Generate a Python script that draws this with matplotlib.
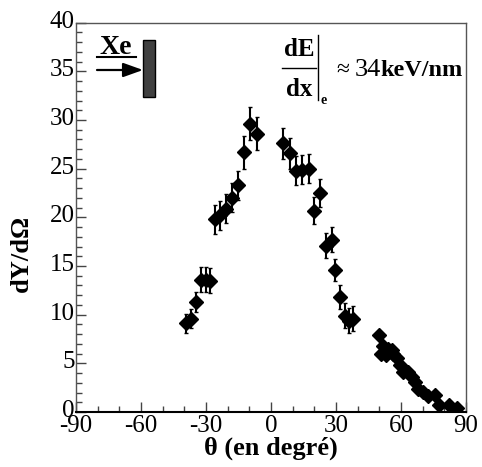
import matplotlib
matplotlib.use("Agg")
import matplotlib.pyplot as plt
from matplotlib.patches import Rectangle, FancyArrowPatch
from matplotlib.lines import Line2D
from matplotlib.ticker import MultipleLocator
from matplotlib.transforms import ScaledTranslation

plt.rcParams['font.family'] = ['Liberation Serif', 'DejaVu Serif']

# Data
theta = [-39.2, -36.8, -34.6, -32.5, -30.2, -28.0, -25.8, -23.5, -20.9, -18.1,
         -15.1, -12.3, -9.6, -6.3,
         5.7, 8.8, 11.4, 14.2, 17.7, 20.0, 22.6, 25.2, 28.0, 29.5, 31.8, 34.0,
         36.0, 37.8,
         49.8, 50.6, 51.8, 53.1, 54.1, 55.7, 56.4, 58.0, 59.5, 61.1, 63.4, 65.0,
         66.5, 68.0, 70.3, 72.6, 75.7, 77.7, 82.3, 86.0]
dY = [9.1, 9.6, 11.3, 13.6, 13.6, 13.5, 19.8, 20.2, 20.9, 22.0,
      23.3, 26.7, 29.6, 28.6,
      27.6, 26.6, 24.8, 24.9, 25.0, 20.7, 22.5, 17.1, 17.7, 14.6, 11.8, 9.9,
      9.4, 9.6,
      7.9, 6.0, 6.8, 5.9, 6.5, 6.4, 6.0, 5.5, 4.8, 4.1, 4.1, 3.6,
      3.1, 2.4, 2.1, 1.6, 1.75, 0.7, 0.7, 0.4]
err = [1.0, 1.0, 1.0, 1.3, 1.3, 1.3, 1.5, 1.5, 1.5, 1.5,
       1.5, 1.7, 1.7, 1.7,
       1.6, 1.6, 1.5, 1.5, 1.5, 1.4, 1.4, 1.3, 1.3, 1.1, 1.2, 1.3,
       1.3, 1.3,
       0.3, 0.3, 0.3, 0.3, 0.3, 0.3, 0.3, 0.3, 0.3, 0.3, 0.3, 0.3,
       0.3, 0.3, 0.3, 0.3, 0.3, 0.3, 0.3, 0.3]

xticks = [-90, -60, -30, 0, 30, 60, 90]
yticks = [0, 5, 10, 15, 20, 25, 30, 35, 40]

W, H = 482, 467
fig = plt.figure(figsize=(W / 100, H / 100), dpi=100)
L, R, B, T = 76, 466, 412, 22.7
ax = fig.add_axes([L / W, 1 - B / H, (R - L) / W, (B - T) / H])

ax.errorbar(theta, dY, yerr=err, fmt='D', color='black', ms=7.0,
            elinewidth=1.5, capsize=1.5, capthick=1.0, zorder=3)

ax.set_xlim(-90, 90)
ax.set_ylim(0, 40)
ax.set_xticks(xticks)
ax.set_xticklabels([str(v) for v in xticks])
ax.set_yticks(yticks)
ax.set_yticklabels([str(v) for v in yticks])
ax.xaxis.set_minor_locator(MultipleLocator(10))
ax.yaxis.set_minor_locator(MultipleLocator(1))
ax.tick_params(which='both', direction='in', labelsize=18, pad=1,
               top=False, right=False, colors='#444444', labelcolor='black')
ax.tick_params(which='major', length=7, width=1.0)
ax.tick_params(which='minor', length=4, width=1.0)
ax.tick_params(axis='x', pad=2)
for lab in ax.get_yticklabels():
    lab.set_transform(lab.get_transform() + ScaledTranslation(0, 0.035, fig.dpi_scale_trans))
for s in ['left', 'right', 'top']:
    ax.spines[s].set_color('#555555')
    ax.spines[s].set_linewidth(1.0)
ax.spines['bottom'].set_color('black')
ax.spines['bottom'].set_linewidth(1.5)

ax.set_xlabel('θ (en degré)', fontsize=19, fontweight='bold', labelpad=0)
ax.set_ylabel('dY/dΩ', fontsize=19, fontweight='bold')
ax.yaxis.set_label_coords(-(L - 33) / (R - L), (B - 253) / (B - T))


def axc(px, py):
    return ((px - L) / (R - L), (B - py) / (B - T))


tr = ax.transAxes
# Xe label with underline
x0, y0 = axc(116, 47)
ax.text(x0, y0, 'Xe', transform=tr, ha='center', va='center', fontsize=20,
        fontweight='bold')
ua, ub = axc(97, 57), axc(136, 57)
ax.add_line(Line2D([ua[0], ub[0]], [ua[1], ub[1]], transform=tr, color='black', lw=1.5))
# arrow
a0, a1 = axc(97, 70), axc(143, 70)
ax.add_patch(FancyArrowPatch(a0, a1, transform=tr,
                             arrowstyle='-|>,head_length=12,head_width=4.3',
                             mutation_scale=1, color='black', lw=1.6,
                             shrinkA=0, shrinkB=0))
# target
r0 = axc(143, 97)
r1 = axc(155, 40)
ax.add_patch(Rectangle(r0, r1[0] - r0[0], r1[1] - r0[1], transform=tr,
                       facecolor='#404040', edgecolor='black', lw=1.0))

# dE/dx annotation
p = axc(299, 49)
ax.text(p[0], p[1], 'dE', transform=tr, ha='center', va='center', fontsize=18, fontweight='bold')
p = axc(299, 90)
ax.text(p[0], p[1], 'dx', transform=tr, ha='center', va='center', fontsize=18, fontweight='bold')
f0, f1 = axc(282, 68), axc(316, 68)
ax.add_line(Line2D([f0[0], f1[0]], [f0[1], f1[1]], transform=tr, color='black', lw=1.0))
v0, v1 = axc(318, 35), axc(318, 100)
ax.add_line(Line2D([v0[0], v1[0]], [v0[1], v1[1]], transform=tr, color='black', lw=1.0))
p = axc(324, 101)
ax.text(p[0], p[1], 'e', transform=tr, ha='center', va='center', fontsize=10, fontweight='bold')
p = axc(336, 70)
ax.text(p[0], p[1], '≈', transform=tr, ha='left', va='center', fontsize=17)
p = axc(355, 70)
ax.text(p[0], p[1], '34', transform=tr, ha='left', va='center', fontsize=19)
p = axc(380, 70)
ax.text(p[0], p[1], 'keV/nm', transform=tr, ha='left', va='center', fontsize=17.5,
        fontweight='bold')

fig.savefig('out.png', dpi=100)
